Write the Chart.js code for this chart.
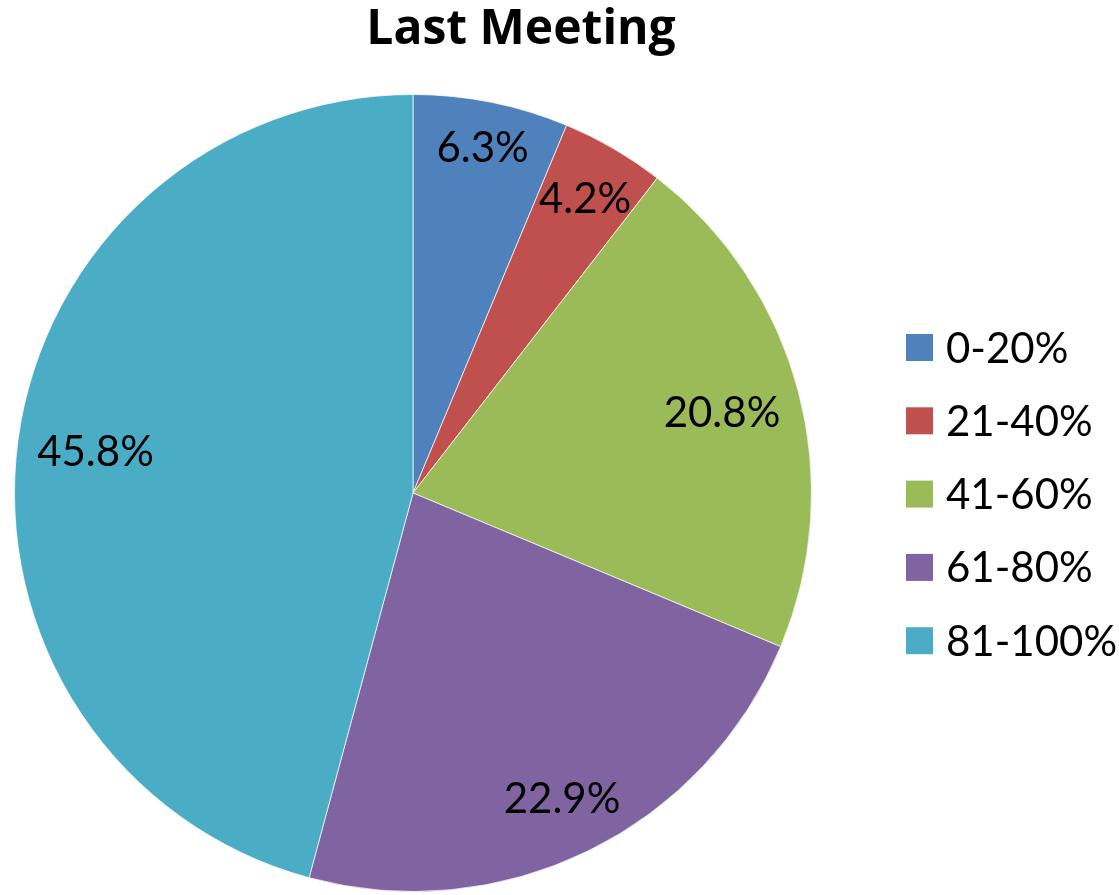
<!DOCTYPE html>
<html>
<head>
<meta charset="utf-8">
<script src="https://cdn.jsdelivr.net/npm/chart.js@4/dist/chart.umd.min.js"></script>
<style>
html,body{margin:0;padding:0;background:#fff;}
#wrap{width:1119px;height:895px;position:relative;}
</style>
</head>
<body>
<div id="wrap"><canvas id="c" width="1119" height="895"></canvas></div>
<script>
const chartTitle = "Last Meeting";
const categories = ["0-20%", "21-40%", "41-60%", "61-80%", "81-100%"];
const values = [6.3, 4.2, 20.8, 22.9, 45.8];
const colors = ["#4F81BD", "#C0504D", "#9BBB59", "#8064A2", "#4BACC6"];

const FONT = "Lato, 'Open Sans', sans-serif";

const decor = {
  id: "decor",
  afterDraw(chart) {
    const ctx = chart.ctx;
    const meta = chart.getDatasetMeta(0);
    ctx.save();
    // data labels
    ctx.font = "42px " + FONT;
    ctx.fillStyle = "#000";
    ctx.textAlign = "center";
    ctx.textBaseline = "middle";
    meta.data.forEach((arc, i) => {
      const p = arc.getProps(["x","y","startAngle","endAngle","outerRadius"], true);
      const mid = (p.startAngle + p.endAngle) / 2;
      const txt = values[i].toFixed(1) + "%";
      const w = ctx.measureText(txt).width;
      const h = 36;
      const s = Math.abs(Math.cos(mid)), c = Math.abs(Math.sin(mid));
      const ext = w / 2 * s + h / 2 * c;
      const d = p.outerRadius - 18 - ext;
      ctx.fillText(txt, p.x + Math.cos(mid) * d, p.y + Math.sin(mid) * d + 2);
    });
    // title
    ctx.font = "bold 48px 'Open Sans', Lato, sans-serif";
    ctx.fillText(chartTitle, 521, 30);
    // legend
    ctx.font = "42px " + FONT;
    ctx.textAlign = "left";
    categories.forEach((lab, i) => {
      const y = 347 + i * 73.3;
      ctx.fillStyle = colors[i];
      ctx.fillRect(906, y - 13, 27, 27);
      ctx.fillStyle = "#000";
      ctx.fillText(lab, 946, y + 2);
    });
    ctx.restore();
  }
};

new Chart(document.getElementById("c"), {
  type: "pie",
  data: {
    labels: categories,
    datasets: [{
      data: values,
      backgroundColor: colors,
      borderColor: "rgba(255,255,255,0.7)",
      borderWidth: 1
    }]
  },
  options: {
    responsive: false,
    animation: false,
    layout: { padding: { top: 94, right: 293, bottom: 3, left: 0 } },
    plugins: {
      legend: { display: false },
      title: { display: false },
      tooltip: { enabled: false }
    }
  },
  plugins: [decor]
});
</script>
</body>
</html>
